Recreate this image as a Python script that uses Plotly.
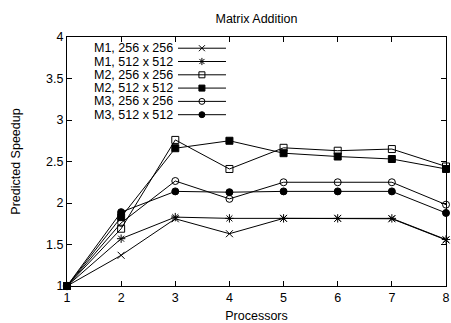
import plotly.graph_objects as go

processors = [1, 2, 3, 4, 5, 6, 7, 8]
series_names = ["M1, 256 x 256", "M1, 512 x 512", "M2, 256 x 256",
                "M2, 512 x 512", "M3, 256 x 256", "M3, 512 x 512"]
m1_256 = [1, 1.37, 1.81, 1.63, 1.815, 1.815, 1.81, 1.555]
m1_512 = [1, 1.57, 1.83, 1.815, 1.815, 1.815, 1.815, 1.56]
m2_256 = [1, 1.69, 2.76, 2.41, 2.665, 2.63, 2.65, 2.44]
m2_512 = [1, 1.83, 2.66, 2.75, 2.60, 2.56, 2.53, 2.41]
m3_256 = [1, 1.76, 2.265, 2.05, 2.25, 2.25, 2.25, 1.98]
m3_512 = [1, 1.89, 2.14, 2.13, 2.14, 2.14, 2.14, 1.88]
series_values = [m1_256, m1_512, m2_256, m2_512, m3_256, m3_512]
symbols = ["x-thin-open", "asterisk-open", "square-open", "square",
           "circle-open", "circle"]
y_ticks = [1, 1.5, 2, 2.5, 3, 3.5, 4]

FONT = "Liberation Sans, Arial, sans-serif"
fig = go.Figure()

for name, vals, sym in zip(series_names, series_values, symbols):
    fig.add_trace(go.Scatter(
        x=processors, y=vals, mode="lines+markers", name=name,
        line=dict(color="black", width=1),
        marker=dict(symbol=sym, size=7, color="black",
                    line=dict(color="black", width=1)),
        showlegend=False, cliponaxis=False))

# custom gnuplot-style key (text right-aligned, sample on the right)
row0, dy = 0.955, 0.0534
txt_x, s0, s1, sm = 0.2876, 0.2929, 0.4195, 0.356
for i, (name, sym) in enumerate(zip(series_names, symbols)):
    yy = row0 - i * dy
    fig.add_annotation(x=txt_x, y=yy, xref="x2", yref="y2", text=name,
                       showarrow=False, xanchor="right", yanchor="middle",
                       xshift=-1,
                       font=dict(family=FONT, size=12.5, color="black"))
    fig.add_trace(go.Scatter(
        x=[s0, sm, s1], y=[yy, yy, yy], xaxis="x2", yaxis="y2",
        mode="lines", line=dict(color="black", width=1),
        showlegend=False, hoverinfo="skip"))
    fig.add_trace(go.Scatter(
        x=[sm], y=[yy], xaxis="x2", yaxis="y2", mode="markers",
        marker=dict(symbol=sym, size=6, color="black",
                    line=dict(color="black", width=1)),
        showlegend=False, hoverinfo="skip"))

axis_common = dict(showgrid=False, zeroline=False, showline=True,
                   linecolor="black", linewidth=1, mirror="ticks",
                   ticks="inside", ticklen=5, tickcolor="black",
                   automargin=False,
                   tickfont=dict(family=FONT, size=12.5, color="black"))

fig.update_layout(
    width=451, height=323,
    margin=dict(l=67, r=5, t=37, b=37),
    paper_bgcolor="white", plot_bgcolor="white",
    title=dict(text="Matrix Addition", x=0.5687, xanchor="center",
               y=0.942, yanchor="middle",
               font=dict(family=FONT, size=12.5, color="black")),
    xaxis=dict(range=[1, 8], tickvals=processors, **axis_common,
               title=dict(text="Processors", standoff=11,
                          font=dict(family=FONT, size=12.5, color="black"))),
    yaxis=dict(range=[1, 4], tickvals=y_ticks, **axis_common,
               title=dict(text="Predicted Speedup", standoff=22,
                          font=dict(family=FONT, size=12.5, color="black"))),
    xaxis2=dict(range=[0, 1], overlaying="x", visible=False),
    yaxis2=dict(range=[0, 1], overlaying="y", visible=False),
    showlegend=False,
)

fig.write_html("out.html", config={"displayModeBar": False})
with open("out.html", "r", encoding="utf-8") as f:
    html = f.read()
html = html.replace("<head>", "<head><style>html,body{margin:0;padding:0;overflow:hidden;}</style>", 1)
with open("out.html", "w", encoding="utf-8") as f:
    f.write(html)
